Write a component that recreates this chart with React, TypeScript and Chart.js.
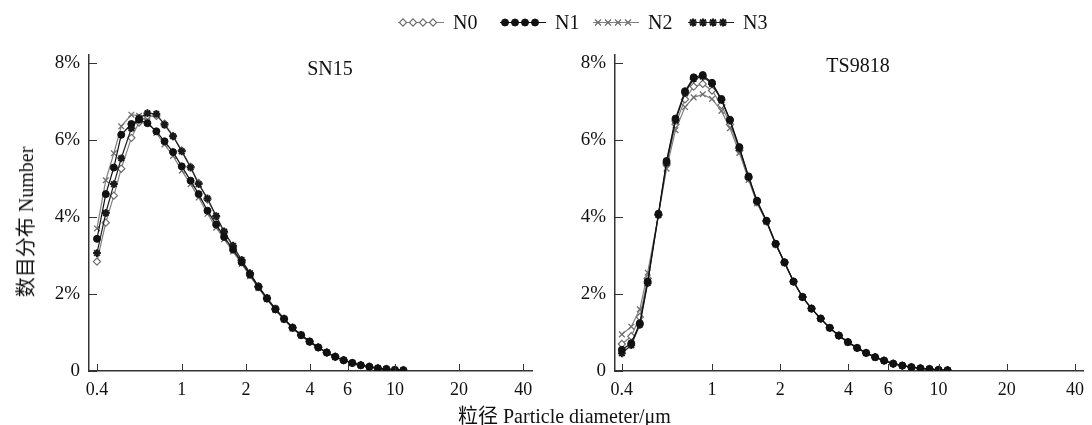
import React, { useEffect, useRef } from 'react';
import { Chart, registerables } from 'chart.js';

Chart.register(...registerables);

// ---------- data ----------
const sizes = [0.40, 0.44, 0.48, 0.52, 0.58, 0.63, 0.69, 0.76, 0.83, 0.91, 1.00, 1.10, 1.20, 1.32, 1.45, 1.58, 1.74, 1.91, 2.09, 2.29, 2.51, 2.75, 3.02, 3.31, 3.63, 3.98, 4.37, 4.79, 5.25, 5.75, 6.31, 6.92, 7.59, 8.32, 9.12, 10.0, 10.96];

const seriesNames = ['N0', 'N1', 'N2', 'N3'];

const sn15N0 = [2.84, 3.85, 4.55, 5.25, 6.05, 6.45, 6.62, 6.62, 6.42, 6.10, 5.72, 5.30, 4.88, 4.45, 4.00, 3.60, 3.22, 2.86, 2.52, 2.18, 1.88, 1.60, 1.35, 1.12, 0.93, 0.76, 0.61, 0.48, 0.37, 0.28, 0.21, 0.15, 0.11, 0.07, 0.05, 0.03, 0.02];
const sn15N1 = [3.43, 4.59, 5.28, 6.13, 6.41, 6.52, 6.43, 6.22, 5.96, 5.68, 5.31, 4.94, 4.59, 4.16, 3.80, 3.48, 3.15, 2.82, 2.50, 2.18, 1.88, 1.60, 1.35, 1.12, 0.93, 0.76, 0.61, 0.48, 0.37, 0.28, 0.21, 0.15, 0.11, 0.07, 0.05, 0.03, 0.02];
const sn15N2 = [3.70, 4.95, 5.65, 6.35, 6.65, 6.62, 6.48, 6.18, 5.88, 5.58, 5.20, 4.85, 4.50, 4.08, 3.72, 3.42, 3.10, 2.78, 2.46, 2.15, 1.86, 1.58, 1.33, 1.10, 0.92, 0.75, 0.60, 0.47, 0.36, 0.28, 0.20, 0.15, 0.10, 0.07, 0.05, 0.03, 0.02];
const sn15N3 = [3.06, 4.10, 4.85, 5.52, 6.30, 6.56, 6.69, 6.67, 6.39, 6.09, 5.70, 5.28, 4.85, 4.48, 4.02, 3.62, 3.25, 2.88, 2.54, 2.20, 1.90, 1.62, 1.36, 1.13, 0.94, 0.77, 0.62, 0.48, 0.37, 0.28, 0.21, 0.15, 0.11, 0.07, 0.05, 0.03, 0.02];

const tsN0 = [0.70, 0.90, 1.40, 2.40, 4.05, 5.35, 6.40, 7.05, 7.38, 7.45, 7.28, 6.90, 6.40, 5.72, 5.00, 4.38, 3.88, 3.29, 2.81, 2.32, 1.92, 1.62, 1.36, 1.12, 0.92, 0.75, 0.60, 0.47, 0.36, 0.27, 0.19, 0.14, 0.10, 0.07, 0.05, 0.03, 0.02];
const tsN1 = [0.55, 0.72, 1.24, 2.32, 4.08, 5.45, 6.55, 7.26, 7.62, 7.68, 7.48, 7.06, 6.52, 5.81, 5.05, 4.42, 3.90, 3.30, 2.82, 2.32, 1.92, 1.62, 1.36, 1.12, 0.92, 0.75, 0.60, 0.47, 0.36, 0.27, 0.19, 0.14, 0.10, 0.07, 0.05, 0.03, 0.02];
const tsN2 = [0.95, 1.15, 1.60, 2.55, 4.05, 5.25, 6.25, 6.85, 7.10, 7.18, 7.06, 6.75, 6.30, 5.66, 4.96, 4.35, 3.86, 3.28, 2.80, 2.31, 1.91, 1.61, 1.35, 1.11, 0.91, 0.74, 0.59, 0.46, 0.35, 0.26, 0.19, 0.14, 0.10, 0.07, 0.05, 0.03, 0.02];
const tsN3 = [0.46, 0.67, 1.20, 2.28, 4.05, 5.40, 6.50, 7.22, 7.58, 7.64, 7.45, 7.03, 6.50, 5.78, 5.03, 4.40, 3.89, 3.30, 2.82, 2.32, 1.92, 1.62, 1.36, 1.12, 0.92, 0.75, 0.60, 0.47, 0.36, 0.27, 0.19, 0.14, 0.10, 0.07, 0.05, 0.03, 0.02];

const xTickValues = [0.4, 1, 2, 4, 6, 10, 20, 40];
const yTickValues = [0, 2, 4, 6, 8];

// ---------- styles ----------
const SERIF = '"Liberation Serif", "Times New Roman", "Noto Sans CJK SC", serif';
const styles = [
  { pointStyle: 'rectRot', line: '#808080', border: '#6e6e6e', bg: '#ffffff', radius: 3.6, bw: 1.2, order: 3 },
  { pointStyle: 'circle', line: '#111111', border: '#111111', bg: '#111111', radius: 3.5, bw: 1, order: 0 },
  { pointStyle: 'crossRot', line: '#808080', border: '#6e6e6e', bg: '#6e6e6e', radius: 4, bw: 1.3, order: 2 },
  { pointStyle: 'star', line: '#222222', border: '#1a1a1a', bg: '#1a1a1a', radius: 3.9, bw: 2, order: 1 },
];

const innerTicks = {
  id: 'innerTicks',
  afterDraw(chart: any) {
    const { ctx, chartArea, scales } = chart;
    const x = scales.x;
    const y = scales.y;
    ctx.save();
    ctx.strokeStyle = '#333';
    ctx.lineWidth = 1;
    ctx.beginPath();
    x.ticks.forEach((t: any) => {
      const px = Math.round(x.getPixelForValue(t.value)) + 0.5;
      ctx.moveTo(px, chartArea.bottom);
      ctx.lineTo(px, chartArea.bottom - 7);
    });
    y.ticks.forEach((t: any) => {
      const py = Math.round(y.getPixelForValue(t.value)) + 0.5;
      ctx.moveTo(chartArea.left, py);
      ctx.lineTo(chartArea.left + 8, py);
    });
    ctx.stroke();
    ctx.restore();
  },
};

type PanelProps = {
  left: number;
  width: number;
  series: number[][];
  xMin: number;
  xMax: number;
  plotLeft: number;
  padRight: number;
};

function Panel({ left, width, series, xMin, xMax, plotLeft, padRight }: PanelProps) {
  const ref = useRef<HTMLCanvasElement>(null);
  useEffect(() => {
    if (!ref.current) return;
    const chart = new Chart(ref.current, {
      type: 'line',
      data: {
        datasets: series.map((vals, i) => ({
          label: seriesNames[i],
          data: sizes.map((s, k) => ({ x: s, y: vals[k] })),
          order: styles[i].order,
          borderColor: styles[i].line,
          borderWidth: 1.2,
          pointStyle: styles[i].pointStyle as any,
          pointRadius: styles[i].radius,
          pointBorderColor: styles[i].border,
          pointBackgroundColor: styles[i].bg,
          pointBorderWidth: styles[i].bw,
          tension: 0,
          fill: false,
        })),
      },
      options: {
        animation: false,
        responsive: false,
        devicePixelRatio: 1,
        layout: { padding: { top: 55, right: padRight, left: 0, bottom: 0 } },
        plugins: { legend: { display: false }, tooltip: { enabled: false } },
        scales: {
          x: {
            type: 'logarithmic',
            min: xMin,
            max: xMax,
            afterBuildTicks: (s: any) => { s.ticks = xTickValues.map((v) => ({ value: v })); },
            afterFit: (s: any) => { s.height = 54; },
            grid: { display: true, drawOnChartArea: false, drawTicks: false },
            border: { display: true, color: '#333', width: 1.5 },
            ticks: {
              autoSkip: false,
              maxRotation: 0,
              padding: 8,
              color: '#111',
              font: { family: SERIF, size: 18 },
              callback: (v: any) => String(v),
            },
          },
          y: {
            type: 'linear',
            min: 0,
            max: 8.2,
            afterBuildTicks: (s: any) => { s.ticks = yTickValues.map((v) => ({ value: v })); },
            afterFit: (s: any) => { s.width = plotLeft; },
            grid: { display: true, drawOnChartArea: false, drawTicks: false },
            border: { display: true, color: '#333', width: 1.5 },
            ticks: {
              padding: 9,
              color: '#111',
              font: { family: SERIF, size: 19 },
              callback: (v: any) => (v === 0 ? '0' : v + '%'),
            },
          },
        },
      },
      plugins: [innerTicks],
    } as any);
    return () => chart.destroy();
  }, []);
  return (
    <canvas
      ref={ref}
      width={width}
      height={425}
      style={{ position: 'absolute', left, top: 0, width, height: 425 }}
    />
  );
}

function LegendIcon({ idx }: { idx: number }) {
  const ref = useRef<HTMLCanvasElement>(null);
  useEffect(() => {
    const c = ref.current;
    if (!c) return;
    const ctx = c.getContext('2d')!;
    const st = styles[idx];
    ctx.clearRect(0, 0, 46, 14);
    ctx.strokeStyle = st.line;
    ctx.lineWidth = 1.2;
    ctx.beginPath();
    ctx.moveTo(0, 7.5);
    ctx.lineTo(46, 7.5);
    ctx.stroke();
    [5, 15, 25, 35].forEach((cx) => {
      const r = st.radius;
      ctx.lineWidth = st.bw;
      ctx.strokeStyle = st.border;
      ctx.fillStyle = st.bg;
      ctx.beginPath();
      if (st.pointStyle === 'circle') {
        ctx.arc(cx, 7.5, r, 0, Math.PI * 2);
        ctx.fill();
        ctx.stroke();
      } else if (st.pointStyle === 'rectRot') {
        ctx.moveTo(cx, 7.5 - r);
        ctx.lineTo(cx + r, 7.5);
        ctx.lineTo(cx, 7.5 + r);
        ctx.lineTo(cx - r, 7.5);
        ctx.closePath();
        ctx.fill();
        ctx.stroke();
      } else if (st.pointStyle === 'crossRot') {
        const d = r * 0.75;
        ctx.moveTo(cx - d, 7.5 - d); ctx.lineTo(cx + d, 7.5 + d);
        ctx.moveTo(cx + d, 7.5 - d); ctx.lineTo(cx - d, 7.5 + d);
        ctx.stroke();
      } else {
        const d = r * 0.75;
        ctx.moveTo(cx - d, 7.5 - d); ctx.lineTo(cx + d, 7.5 + d);
        ctx.moveTo(cx + d, 7.5 - d); ctx.lineTo(cx - d, 7.5 + d);
        ctx.moveTo(cx, 7.5 - r); ctx.lineTo(cx, 7.5 + r);
        ctx.moveTo(cx - r, 7.5); ctx.lineTo(cx + r, 7.5);
        ctx.stroke();
      }
    });
  }, [idx]);
  return <canvas ref={ref} width={46} height={14} style={{ width: 46, height: 14, display: 'block' }} />;
}

const legendLefts = [398, 500, 593, 688];

export default function App() {
  return (
    <div style={{ position: 'absolute', left: 0, top: 0, width: 1092, height: 425, background: '#fff', overflow: 'hidden', fontFamily: SERIF, color: '#111' }}>
      <Panel left={0} width={546} series={[sn15N0, sn15N1, sn15N2, sn15N3]} xMin={0.367} xMax={44} plotLeft={89} padRight={14} />
      <Panel left={546} width={546} series={[tsN0, tsN1, tsN2, tsN3]} xMin={0.373} xMax={43.5} plotLeft={69} padRight={0} />

      {seriesNames.map((n, i) => (
        <div key={n} style={{ position: 'absolute', left: legendLefts[i], top: 12, height: 20, display: 'flex', alignItems: 'center' }}>
          <LegendIcon idx={i} />
          <span style={{ marginLeft: 9, fontSize: 20, lineHeight: '20px' }}>{n}</span>
        </div>
      ))}

      <div style={{ position: 'absolute', left: 330, top: 58, transform: 'translateX(-50%)', fontSize: 20, lineHeight: '20px', whiteSpace: 'nowrap' }}>SN15</div>
      <div style={{ position: 'absolute', left: 858, top: 55, transform: 'translateX(-50%)', fontSize: 20, lineHeight: '20px', whiteSpace: 'nowrap' }}>TS9818</div>

      <div style={{ position: 'absolute', left: 26, top: 222, transform: 'translate(-50%, -50%) rotate(-90deg)', fontSize: 20, lineHeight: '20px', whiteSpace: 'nowrap' }}>数目分布 Number</div>

      <div style={{ position: 'absolute', left: 458, top: 406, fontSize: 20, lineHeight: '20px', whiteSpace: 'nowrap' }}>粒径 Particle diameter/μm</div>
    </div>
  );
}
